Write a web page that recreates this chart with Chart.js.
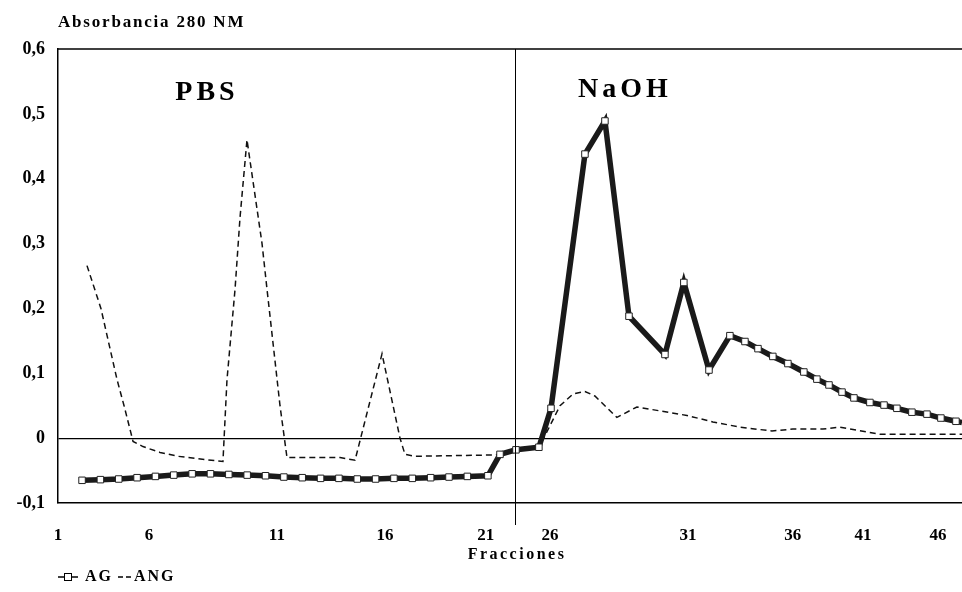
<!DOCTYPE html>
<html>
<head>
<meta charset="utf-8">
<script src="https://cdn.jsdelivr.net/npm/chart.js@4.4.1/dist/chart.umd.min.js"></script>
<style>
  html, body { margin: 0; padding: 0; background: #fff; overflow: hidden; }
  #wrap { width: 962px; height: 592px; }
</style>
</head>
<body>
<div id="wrap"><canvas id="chart"></canvas></div>
<script>
// --- data (x = position along the "Fracciones" axis) ---
const agX = [2.31, 3.31, 4.31, 5.31, 6.31, 7.31, 8.31, 9.31, 10.31, 11.31, 12.31, 13.31,
  14.31, 15.31, 16.31, 17.31, 18.31, 19.31, 20.31, 21.31, 22.31, 23.31, 24.43,
  25.09, 25.96, 27.21, 27.87, 29.72, 30.81, 32.12, 34.08, 35.11, 36.48, 37.62, 38.44,
  39.15, 39.96, 40.78, 41.65, 42.36, 43.02, 43.73, 44.38, 45.25, 46.02, 46.72, 47.54,
  48.36, 49.12, 49.94, 50.27];
const agY = [-0.065, -0.064, -0.063, -0.061, -0.059, -0.057, -0.055, -0.055, -0.056, -0.057,
  -0.058, -0.060, -0.061, -0.062, -0.062, -0.063, -0.063, -0.062, -0.062, -0.061, -0.060,
  -0.059, -0.058,
  -0.025, -0.018, -0.014, 0.046, 0.438, 0.489, 0.188, 0.129, 0.240, 0.105, 0.158, 0.149,
  0.138, 0.126, 0.115, 0.102, 0.091, 0.082, 0.071, 0.062, 0.055, 0.051, 0.046, 0.040,
  0.037, 0.031, 0.026, 0.024];

const angX = [2.58, 3.34, 4.22, 4.60, 5.09, 5.63, 6.56, 7.54, 9.01, 9.99, 10.21, 10.65,
  10.92, 11.30, 12.12, 12.39, 13.10, 13.48, 15.28, 16.37, 17.19, 18.66, 19.64, 19.91,
  20.46, 24.71, 25.09, 25.96, 27.21, 27.65, 28.36, 29.07, 29.72, 30.26, 31.46, 32.55,
  33.81, 35.28, 36.69, 38.17, 39.91, 41.05, 42.69, 43.62, 45.80, 50.27];
const angY = [0.266, 0.200, 0.090, 0.050, -0.005, -0.013, -0.022, -0.028, -0.033, -0.036,
  0.090, 0.230, 0.340, 0.460, 0.300, 0.230, 0.050, -0.030, -0.030, -0.030, -0.034, 0.130,
  0.000, -0.025, -0.028, -0.026, -0.025, -0.018, -0.014, 0.010, 0.050, 0.068, 0.072,
  0.065, 0.032, 0.048, 0.042, 0.035, 0.025, 0.017, 0.011, 0.014, 0.014, 0.017, 0.006,
  0.006];

const tickPos = [1.00, 5.96, 12.93, 18.82, 24.32, 27.81, 35.33, 41.05, 44.87, 48.96];
const tickLabels = ['1', '6', '11', '16', '21', '26', '31', '36', '41', '46'];
const separatorX = 25.90;

const FONT = '"Liberation Serif", "DejaVu Serif", serif';

const pairs = (xs, ys) => xs.map((x, i) => ({ x: x, y: ys[i] }));

const extras = {
  id: 'extras',
  afterDraw(chart) {
    const { ctx, chartArea: a, scales } = chart;
    ctx.save();
    ctx.strokeStyle = '#000';
    ctx.lineWidth = 1.5;
    // top border
    ctx.beginPath();
    ctx.moveTo(a.left, a.top);
    ctx.lineTo(a.right, a.top);
    ctx.stroke();
    // PBS / NaOH separator
    const sx = Math.round(scales.x.getPixelForValue(separatorX)) + 0.5;
    ctx.lineWidth = 1;
    ctx.beginPath();
    ctx.moveTo(sx, a.top);
    ctx.lineTo(sx, a.bottom + 22);
    ctx.stroke();

    ctx.fillStyle = '#000';
    ctx.textBaseline = 'middle';
    ctx.textAlign = 'center';
    ctx.font = 'bold 28px ' + FONT;
    ctx.letterSpacing = '4px';
    ctx.fillText('PBS', 207, 93);
    ctx.fillText('NaOH', 625, 90);

    ctx.textAlign = 'left';
    ctx.font = 'bold 17px ' + FONT;
    ctx.letterSpacing = '1.8px';
    ctx.fillText('Absorbancia 280 NM', 58, 23);

    ctx.textAlign = 'center';
    ctx.font = 'bold 16px ' + FONT;
    ctx.letterSpacing = '2.5px';
    ctx.fillText('Fracciones', 517, 555);

    // legend
    const ly = 577;
    ctx.lineWidth = 1.5;
    ctx.beginPath();
    ctx.moveTo(58, ly); ctx.lineTo(78, ly);
    ctx.stroke();
    ctx.fillStyle = '#fff';
    ctx.fillRect(64, ly - 4, 8, 8);
    ctx.lineWidth = 1;
    ctx.strokeRect(64.5, ly - 3.5, 7, 7);
    ctx.lineWidth = 1.5;
    ctx.setLineDash([5, 3]);
    ctx.beginPath();
    ctx.moveTo(118, ly); ctx.lineTo(131, ly);
    ctx.stroke();
    ctx.setLineDash([]);
    ctx.fillStyle = '#000';
    ctx.textAlign = 'left';
    ctx.font = 'bold 16px ' + FONT;
    ctx.letterSpacing = '2px';
    ctx.fillText('AG', 85, ly);
    ctx.fillText('ANG', 134, ly);
    ctx.restore();
  }
};

new Chart(document.getElementById('chart'), {
  type: 'line',
  data: {
    datasets: [
      {
        label: 'AG',
        data: pairs(agX, agY),
        borderColor: '#1a1a1a',
        borderWidth: 5.5,
        pointStyle: 'rect',
        pointRadius: agX.map((x, i) => (i === agX.length - 1 ? 0 : 4.6)),
        pointBackgroundColor: '#fff',
        pointBorderColor: '#222',
        pointBorderWidth: 1,
        tension: 0
      },
      {
        label: 'ANG',
        data: pairs(angX, angY),
        borderColor: '#111',
        borderWidth: 1.5,
        borderDash: [6, 4],
        pointRadius: 0,
        tension: 0
      }
    ]
  },
  options: {
    responsive: true,
    maintainAspectRatio: false,
    animation: false,
    devicePixelRatio: 1,
    layout: { autoPadding: false, padding: { top: 49, right: 0, bottom: 0, left: 0 } },
    plugins: { legend: { display: false }, tooltip: { enabled: false } },
    scales: {
      x: {
        type: 'linear',
        min: 1,
        max: 50.27,
        afterFit: s => { s.height = 89; s.paddingLeft = 0; s.paddingRight = 0; },
        afterBuildTicks: s => { s.ticks = tickPos.map(v => ({ value: v })); },
        grid: { display: false },
        border: { display: true, color: '#000', width: 1.5 },
        ticks: {
          autoSkip: false,
          maxRotation: 0,
          padding: 14,
          color: '#000',
          font: { family: FONT, size: 17, weight: 'bold' },
          callback: (v, i) => tickLabels[i]
        }
      },
      y: {
        min: -0.1,
        max: 0.6,
        afterFit: s => { s.width = 58; },
        grid: {
          drawTicks: false,
          color: c => (Math.abs(c.tick.value) < 1e-9 ? '#000' : 'rgba(0,0,0,0)'),
          lineWidth: 1.2
        },
        border: { display: true, color: '#000', width: 1.5 },
        ticks: {
          stepSize: 0.1,
          padding: 13,
          color: '#000',
          font: { family: FONT, size: 18, weight: 'bold' },
          callback: v => (Math.abs(v) < 1e-9 ? '0' : v.toFixed(1).replace('.', ','))
        }
      }
    }
  },
  plugins: [extras]
});
</script>
</body>
</html>
